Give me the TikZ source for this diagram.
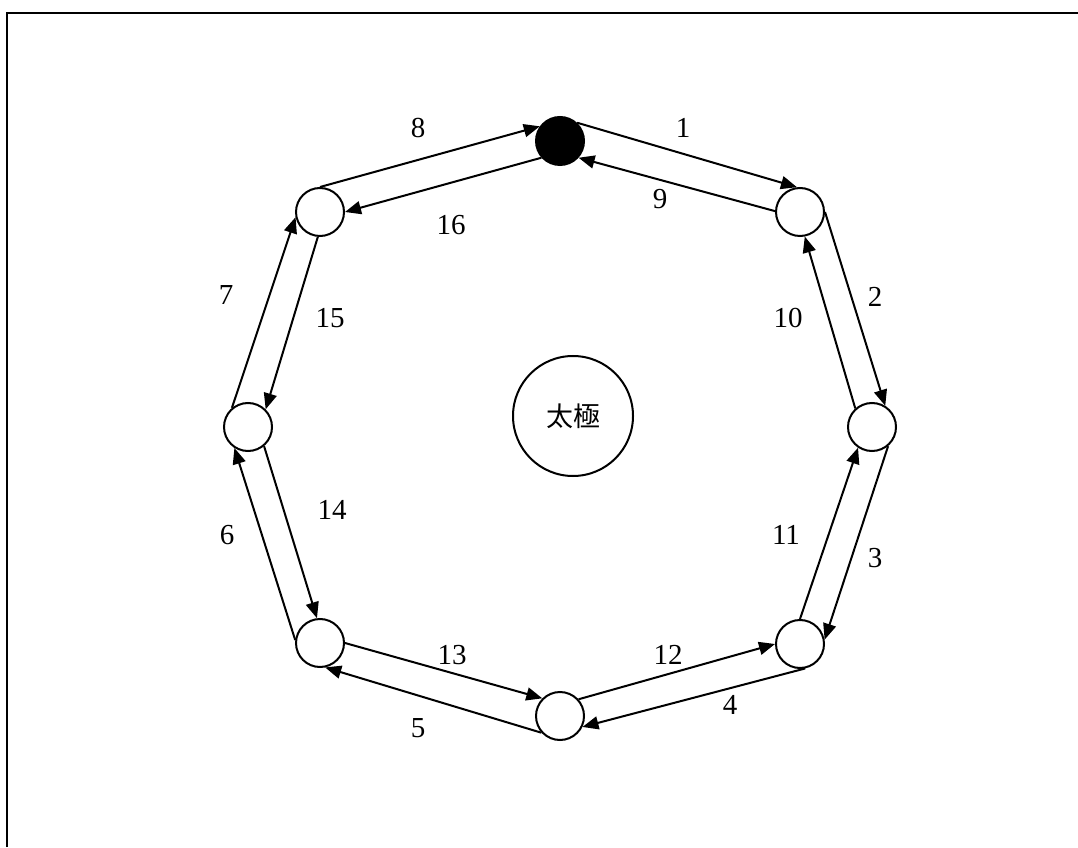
\documentclass[tikz,border=0pt]{standalone}
\usepackage{fontspec}
\setmainfont{Liberation Serif}
\newfontfamily\cjk{Noto Sans CJK TC}
\usetikzlibrary{arrows.meta}
\begin{document}
\begin{tikzpicture}[x=1pt,y=1pt,
  station/.style={circle,draw,line width=2pt,minimum size=48pt,inner sep=0pt,fill=white},
  core/.style={circle,draw,line width=2pt,minimum size=120pt,inner sep=0pt},
  lbl/.style={font=\fontsize{29}{33}\selectfont,inner sep=0pt},
  link/.style={line width=2pt,-{Triangle[length=16pt,width=13pt]}},
  frame/.style={line width=2.2pt}]
\useasboundingbox (0,0) rectangle (1078,847);
\draw[frame] (7,0) -- (7,834) -- (1078,834);
% stations
\node[station,fill=black] (top) at (560,706) {};
\node[station] (tr) at (800,635) {};
\node[station] (r) at (872,420) {};
\node[station] (br) at (800,203) {};
\node[station] (b) at (560,131) {};
\node[station] (bl) at (320,204) {};
\node[station] (l) at (248,420) {};
\node[station] (tl) at (320,635) {};
\node[core] (c) at (573,431) {\cjk\fontsize{27}{30}\selectfont 太極};
% connectors
\draw[link] (top.47) -- (tr.97);
\draw[link] (tr.178) -- (top.318);
\draw[link] (tr.0) -- (r.58);
\draw[link] (r.132) -- (tr.281);
\draw[link] (r.310) -- (br.10);
\draw[link] (br.90) -- (r.236);
\draw[link] (b.42) -- (br.180);
\draw[link] (br.282) -- (b.334);
\draw[link] (bl.0) -- (b.135);
\draw[link] (b.222) -- (bl.282);
\draw[link] (l.310) -- (bl.97);
\draw[link] (bl.173) -- (l.237);
\draw[link] (l.130) -- (tl.192);
\draw[link] (tl.265) -- (l.45);
\draw[link] (tl.90) -- (top.144);
\draw[link] (top.222) -- (tl.0);
% labels
\node[lbl] (l1) at (683,719) {1};
\node[lbl] (l9) at (660,648) {9};
\node[lbl] (l2) at (875,550) {2};
\node[lbl] (l10) at (788,529) {10};
\node[lbl] (l11) at (786,312) {11};
\node[lbl] (l3) at (875,289) {3};
\node[lbl] (l12) at (668,192) {12};
\node[lbl] (l4) at (730,142) {4};
\node[lbl] (l13) at (452,192) {13};
\node[lbl] (l5) at (418,119) {5};
\node[lbl] (l14) at (332,337) {14};
\node[lbl] (l6) at (227,312) {6};
\node[lbl] (l7) at (226,552) {7};
\node[lbl] (l15) at (330,529) {15};
\node[lbl] (l8) at (418,719) {8};
\node[lbl] (l16) at (451,622) {16};
\end{tikzpicture}
\end{document}
